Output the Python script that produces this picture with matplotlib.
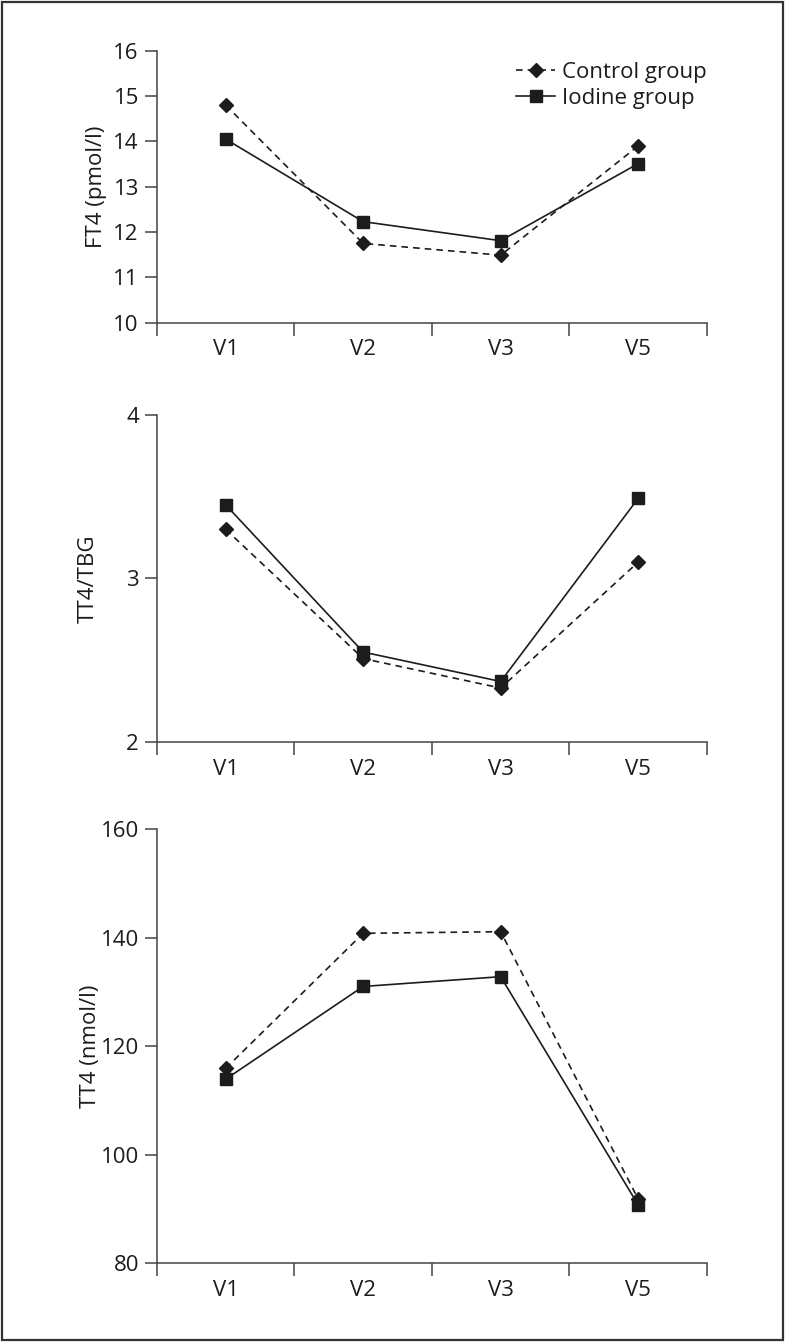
import numpy as np
import matplotlib
matplotlib.use("Agg")
import matplotlib.pyplot as plt
from matplotlib.patches import Rectangle

plt.rcParams['font.family'] = ['Open Sans', 'DejaVu Sans']

# data
visits = ['V1', 'V2', 'V3', 'V5']
ft4_control = [14.8, 11.75, 11.49, 13.9]
ft4_iodine = [14.05, 12.23, 11.81, 13.51]
ratio_control = [3.30, 2.51, 2.33, 3.10]
ratio_iodine = [3.45, 2.55, 2.37, 3.49]
tt4_control = [115.9, 140.8, 141.1, 91.8]
tt4_iodine = [113.9, 131.0, 132.8, 90.7]

panels = [
    dict(ctrl=ft4_control, iod=ft4_iodine, ylim=(10, 16), yticks=[10, 11, 12, 13, 14, 15, 16],
         ylabel='FT4 (pmol/l)', rect=[0.1997, 0.7595, 0.6997, 0.2027], labx=-0.09),
    dict(ctrl=ratio_control, iod=ratio_iodine, ylim=(2, 4), yticks=[2, 3, 4],
         ylabel='TT4/TBG', rect=[0.1997, 0.4471, 0.6997, 0.2437], labx=-0.105),
    dict(ctrl=tt4_control, iod=tt4_iodine, ylim=(80, 160), yticks=[80, 100, 120, 140, 160],
         ylabel='TT4 (nmol/l)', rect=[0.1997, 0.0589, 0.6997, 0.3232], labx=-0.101),
]

ink = '#1c1c1c'
fs = 16

fig = plt.figure(figsize=(7.86, 13.42), dpi=100)

x = np.arange(len(visits))
for i, p in enumerate(panels):
    ax = fig.add_axes(p['rect'])
    ax.plot(x, p['ctrl'], color=ink, lw=1.2, ls='--', dashes=(4, 3),
            marker='D', ms=7, mfc=ink, mec=ink, label='Control group')
    ax.plot(x, p['iod'], color=ink, lw=1.2, ls='-',
            marker='s', ms=8.5, mfc=ink, mec=ink, label='Iodine group')
    ax.set_xlim(-0.5, len(visits) - 0.5)
    ax.set_ylim(*p['ylim'])
    ax.set_yticks(p['yticks'])
    # tick marks sit between categories, labels at category centres
    ax.set_xticks(np.arange(-0.5, len(visits)))
    ax.set_xticklabels([])
    ax.set_xticks(x, minor=True)
    ax.set_xticklabels(visits, minor=True)
    ax.tick_params(axis='x', which='major', length=9, width=1.1, color='#444444')
    ax.tick_params(axis='x', which='minor', length=0, pad=12, labelsize=fs, labelcolor=ink)
    ax.tick_params(axis='y', length=9, width=1.1, color='#444444', pad=4,
                   labelsize=fs, labelcolor=ink)
    for s in ['top', 'right']:
        ax.spines[s].set_visible(False)
    for s in ['left', 'bottom']:
        ax.spines[s].set_color('#444444')
        ax.spines[s].set_linewidth(1.1)
    ax.set_ylabel(p['ylabel'], fontsize=fs, color=ink)
    ax.yaxis.set_label_coords(p['labx'], 0.5)
    if i == 0:
        ax.legend(loc='upper left', bbox_to_anchor=(0.625, 1.015), frameon=False,
                  fontsize=fs, handlelength=1.75, handletextpad=0.3,
                  labelspacing=0.2, borderpad=0.2, labelcolor=ink)

# frame around the whole figure
fig.patches.append(Rectangle((2 / 786, 2 / 1342), 781 / 786, 1338 / 1342,
                             transform=fig.transFigure, fill=False,
                             edgecolor='#333333', linewidth=1.6))

fig.savefig('out.png', dpi=100)
